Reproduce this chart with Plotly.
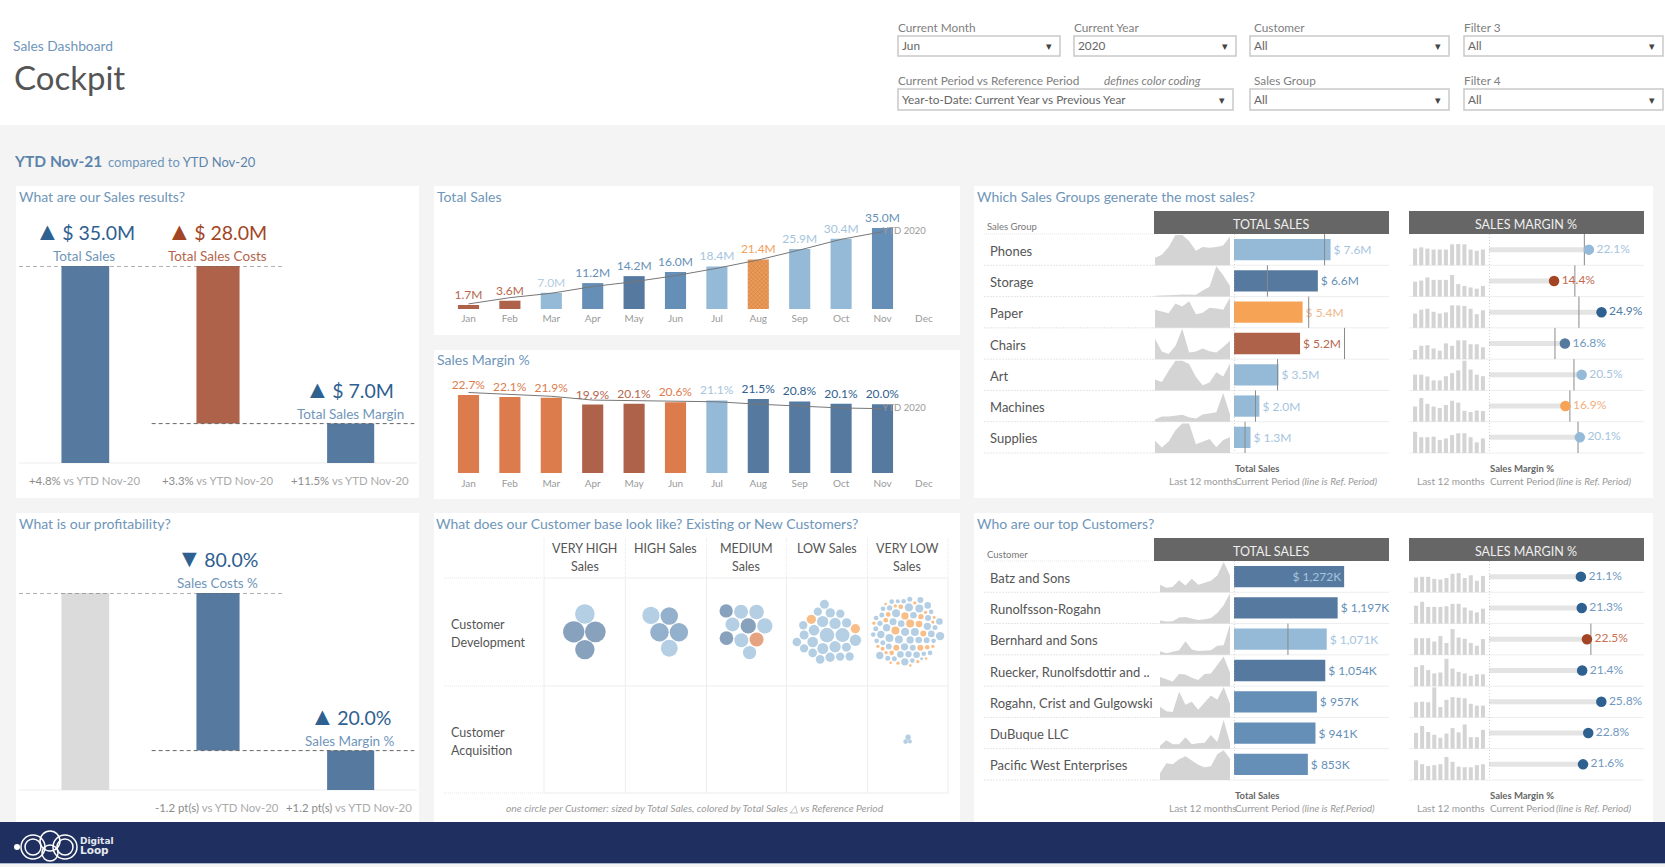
import math
import plotly.graph_objects as go

W, H = 1665, 867
FONT = "Lato"

# colours
LIGHT = "#94BAD8"
MID = "#658FB7"
DARK = "#56799F"
DEEP = "#2E6090"
RUST = "#AE6249"
DEEP_RUST = "#A34525"
BURNT = "#DC7C4C"
ORANGE = "#F7A355"
TXT_BLUE = "#6F96B9"
TXT_LIGHT = "#A5C4DE"
TXT_RUST = "#B5654C"
TXT_ORANGE = "#EDB78B"
GREY = "#9A9A9A"
DARK_TXT = "#555555"

# data
months = ["Jan", "Feb", "Mar", "Apr", "May", "Jun", "Jul", "Aug", "Sep", "Oct", "Nov", "Dec"]
total_sales = [1.7, 3.6, 7.0, 11.2, 14.2, 16.0, 18.4, 21.4, 25.9, 30.4, 35.0]
total_sales_ref = [2.2, 4.9, 6.8, 9.7, 11.8, 14.4, 17.6, 21.2, 25.5, 30.1, 33.4]
total_sales_colors = [RUST, RUST, LIGHT, MID, DARK, MID, LIGHT, "#F09A55", LIGHT, LIGHT, MID]
total_sales_text_colors = [TXT_RUST, TXT_RUST, "#B5CDE2", MID, MID, MID, TXT_LIGHT, "#F0A060", TXT_LIGHT, TXT_LIGHT, MID]
margin_pct = [22.7, 22.1, 21.9, 19.9, 20.1, 20.6, 21.1, 21.5, 20.8, 20.1, 20.0]
margin_ref = [23.4, 22.8, 22.3, 21.2, 21.1, 21.0, 20.7, 20.0, 19.4, 18.9, 18.7]
margin_colors = [BURNT, BURNT, BURNT, RUST, RUST, BURNT, LIGHT, DARK, DARK, DARK, DARK]
margin_text_colors = [BURNT, BURNT, BURNT, TXT_RUST, TXT_RUST, BURNT, TXT_LIGHT, DEEP, DEEP, DEEP, DEEP]

kpi_sales_values = [35.0, 28.0, 7.0]
kpi_sales_base = [0, 7.0, 0]
kpi_profit_values = [100.0, 80.0, 20.0]
kpi_profit_base = [0, 20.0, 0]

groups = ["Phones", "Storage", "Paper", "Chairs", "Art", "Machines", "Supplies"]
group_sales = [7.6, 6.6, 5.4, 5.2, 3.5, 2.0, 1.3]
group_sales_ref = [7.13, 2.63, 5.88, 8.7, 3.43, 1.69, 0.87]
group_labels = ["$ 7.6M", "$ 6.6M", "$ 5.4M", "$ 5.2M", "$ 3.5M", "$ 2.0M", "$ 1.3M"]
group_colors = [LIGHT, DARK, ORANGE, RUST, LIGHT, LIGHT, LIGHT]
group_text_colors = [TXT_LIGHT, MID, TXT_ORANGE, TXT_RUST, TXT_LIGHT, TXT_LIGHT, TXT_LIGHT]
group_margin = [22.1, 14.4, 24.9, 16.8, 20.5, 16.9, 20.1]
group_margin_ref = [21.1, 19.0, 19.9, 14.6, 18.8, 17.9, 19.7]
group_dot_colors = [LIGHT, DEEP_RUST, DEEP, DARK, LIGHT, ORANGE, LIGHT]
group_margin_text = [TXT_LIGHT, "#C26B4F", "#4F7CA6", "#6F98BF", TXT_LIGHT, "#F0B07E", TXT_LIGHT]
group_spark = [
    [25, 35, 60, 100, 100, 80, 48, 60, 58, 60, 65, 95],
    [3, 3, 4, 5, 7, 6, 6, 20, 32, 100, 70, 35],
    [60, 54, 48, 80, 70, 88, 45, 50, 66, 64, 60, 100],
    [67, 25, 17, 43, 100, 22, 25, 35, 26, 22, 40, 60],
    [36, 28, 65, 98, 98, 87, 44, 17, 26, 60, 46, 89],
    [7, 17, 17, 20, 23, 15, 11, 24, 28, 31, 95, 24],
    [40, 18, 38, 75, 97, 97, 29, 38, 46, 19, 43, 52],
]
group_mini = [
    [55, 59, 55, 52, 52, 52, 69, 70, 69, 52, 48, 52],
    [49, 53, 63, 55, 55, 55, 71, 41, 35, 30, 26, 35],
    [47, 60, 63, 53, 47, 51, 74, 74, 72, 63, 45, 58],
    [30, 44, 46, 35, 28, 52, 44, 62, 62, 49, 49, 39],
    [52, 52, 46, 33, 33, 47, 57, 66, 98, 69, 52, 47],
    [50, 78, 59, 50, 45, 55, 69, 63, 36, 32, 37, 35],
    [70, 52, 52, 54, 43, 48, 59, 65, 65, 52, 35, 48],
]

customers = ["Batz and Sons", "Runolfsson-Rogahn", "Bernhard and Sons", "Ruecker, Runolfsdottir and ..",
             "Rogahn, Crist and Gulgowski", "DuBuque LLC", "Pacific West Enterprises"]
cust_sales = [1272, 1197, 1071, 1054, 957, 941, 853]
cust_sales_ref = [None, None, 623, None, None, None, None]
cust_labels = ["$ 1,272K", "$ 1,197K", "$ 1,071K", "$ 1,054K", "$ 957K", "$ 941K", "$ 853K"]
cust_colors = [DARK, DARK, LIGHT, DARK, MID, MID, MID]
cust_text_colors = [TXT_LIGHT, MID, TXT_LIGHT, MID, MID, MID, MID]
cust_margin = [21.1, 21.3, 22.5, 21.4, 25.8, 22.8, 21.6]
cust_margin_ref = [None, None, 23.4, None, None, None, None]
cust_dot_colors = [DEEP, DEEP, DEEP_RUST, DEEP, DEEP, DEEP, DEEP]
cust_margin_text = ["#6F98BF", "#6F98BF", "#CC6E50", "#6F98BF", "#6F98BF", "#6F98BF", "#6F98BF"]
cust_spark = [
    [25, 15, 18, 40, 22, 45, 25, 32, 38, 55, 100, 55],
    [10, 7, 8, 20, 22, 18, 12, 14, 18, 35, 60, 100],
    [12, 5, 10, 15, 45, 18, 13, 13, 15, 30, 32, 100],
    [30, 22, 15, 40, 38, 28, 20, 40, 42, 70, 98, 45],
    [35, 20, 18, 85, 42, 52, 25, 50, 72, 58, 100, 45],
    [10, 28, 15, 15, 38, 15, 18, 20, 45, 22, 95, 20],
    [22, 55, 52, 68, 78, 65, 50, 42, 45, 85, 98, 70],
]
cust_mini = [
    [49, 51, 51, 44, 42, 47, 61, 63, 47, 56, 38, 54],
    [59, 72, 55, 55, 55, 57, 65, 65, 53, 43, 37, 49],
    [55, 55, 55, 44, 62, 39, 85, 57, 53, 39, 30, 52],
    [63, 69, 53, 42, 45, 90, 58, 47, 42, 34, 39, 39],
    [50, 52, 50, 99, 34, 58, 67, 65, 63, 45, 39, 39],
    [52, 75, 55, 46, 36, 50, 68, 54, 80, 38, 38, 62],
    [65, 52, 46, 49, 52, 76, 60, 44, 42, 42, 49, 52],
]

# one circle per customer: sales (K) and status, one list per sales band
band_names = [["VERY HIGH", "Sales"], ["HIGH Sales"], ["MEDIUM", "Sales"], ["LOW Sales"], ["VERY LOW", "Sales"]]
very_high_sales = [1272, 1197, 1071, 1054]
very_high_colors = [DARK, DARK, LIGHT, DARK]
high_sales = [957, 941, 853, 830, 800]
high_colors = [MID, MID, MID, LIGHT, LIGHT]
medium_sales = [658, 658, 602, 549, 549, 549, 549, 523, 498, 498]
medium_colors = [DARK, LIGHT, LIGHT, BURNT, LIGHT, LIGHT, LIGHT, DARK, LIGHT, DARK]
low_sales = [602, 549, 360, 360, 360, 339, 319, 319, 244, 244, 244, 244, 227, 227, 210, 210, 194, 194, 194, 194, 194,
             360, 244, 227, 210, 194]
low_colors = [LIGHT] * 26
low_colors[8] = ORANGE
low_colors[22] = ORANGE
very_low_blue = [194, 179, 150, 124, 179, 150, 137, 124, 179, 101, 150, 124, 179, 101, 150, 112, 124, 101, 194, 150,
                 124, 70, 124, 179, 101, 80, 80, 150, 70, 70, 61, 70, 61, 61, 61, 70, 61, 70, 61, 61, 45, 61, 25, 61,
                 70, 61, 61, 150, 194, 124, 101, 124]
very_low_orange = [179, 179, 150, 124, 101, 101, 101, 80, 61, 61, 61, 61, 61, 45, 31, 31, 31, 31, 31, 31, 31, 31, 31,
                   31, 25, 20, 20, 20, 20]
acquisition_sales = [61, 45, 80]
SIZEREF = 2.8


def pack(values, pad):
    # greedy packing: each circle goes as close to the middle as it can
    rad = [math.sqrt(v / SIZEREF) / 2 + pad for v in values]
    placed = [(0.0, 0.0, rad[0])]
    for r in rad[1:]:
        cands = []
        if len(placed) == 1:
            cands.append((placed[0][2] + r, 0.0))
        for i, a in enumerate(placed):
            for b in placed[i + 1:]:
                da, db = a[2] + r, b[2] + r
                d = math.hypot(b[0] - a[0], b[1] - a[1])
                if d == 0 or d > da + db:
                    continue
                k = (da * da - db * db + d * d) / (2 * d)
                h = math.sqrt(max(0, da * da - k * k))
                mx = a[0] + k * (b[0] - a[0]) / d
                my = a[1] + k * (b[1] - a[1]) / d
                cands.append((mx + h * (b[1] - a[1]) / d, my - h * (b[0] - a[0]) / d))
                cands.append((mx - h * (b[1] - a[1]) / d, my + h * (b[0] - a[0]) / d))
        best = None
        for c in cands:
            if all(math.hypot(c[0] - p[0], c[1] - p[1]) >= r + p[2] - 1e-6 for p in placed):
                dist = math.hypot(*c)
                if best is None or dist < best[0]:
                    best = (dist, c)
        placed.append((best[1][0], best[1][1], r))
    cx = (min(p[0] - p[2] for p in placed) + max(p[0] + p[2] for p in placed)) / 2
    cy = (min(p[1] - p[2] for p in placed) + max(p[1] + p[2] for p in placed)) / 2
    return [p[0] - cx for p in placed], [p[1] - cy for p in placed]


def dx(a, b):
    return [a / W, b / W]


def dy(top, bottom):
    return [1 - bottom / H, 1 - top / H]


annotations = []
shapes = []


def txt(x, y, text, size=12, color=DARK_TXT, anchor="left", family=FONT, **kw):
    annotations.append(dict(x=x / W, y=1 - y / H, xref="paper", yref="paper", text=text, showarrow=False,
                            xanchor=anchor, yanchor="middle", align=anchor,
                            font=dict(family=family, size=size, color=color), borderpad=0, **kw))


def kpi(x, y, mark, value, color):
    txt(x, y, f"<span style='font-size:25px'>{mark}</span>\u2009{value}", 19.5, color, "center")


def rect(x0, y0, x1, y1, fill="white", line=None, lw=1):
    shapes.append(dict(type="rect", xref="paper", yref="paper", x0=x0 / W, x1=x1 / W, y0=1 - y0 / H, y1=1 - y1 / H,
                       fillcolor=fill, line=dict(color=line or fill, width=lw if line else 0), layer="below"))


def hline(x0, x1, y, color="#EDEDED", dash="solid", width=1):
    shapes.append(dict(type="line", xref="paper", yref="paper", x0=x0 / W, x1=x1 / W, y0=1 - y / H, y1=1 - y / H,
                       line=dict(color=color, width=width, dash=dash), layer="below"))


def vline(x, y0, y1, color="#EDEDED", dash="solid"):
    shapes.append(dict(type="line", xref="paper", yref="paper", x0=x / W, x1=x / W, y0=1 - y0 / H, y1=1 - y1 / H,
                       line=dict(color=color, width=1, dash=dash), layer="below"))


fig = go.Figure()

# white header and panels
rect(0, 0, W, 125)
for x0, y0, x1, y1 in [(16, 186, 419, 498), (16, 513, 419, 822), (434, 186, 960, 335), (434, 350, 960, 499),
                       (434, 513, 960, 822), (974, 186, 1653, 498), (974, 513, 1653, 822)]:
    rect(x0, y0, x1, y1)

# title block
txt(12, 46, "Sales Dashboard", 13.8, TXT_BLUE)
txt(13, 77, "Cockpit", 33, "#555555")
txt(13, 161, "<b>YTD Nov-21</b>", 15.5, "#5C84AB")
txt(107, 162, "compared to <span style='color:#5C84AB'>YTD Nov-20</span>", 13, TXT_BLUE)

# filters
filters = [
    (898, 1060, 36, 56, "Current Month", 27, "Jun"), (1074, 1236, 36, 56, "Current Year", 27, "2020"),
    (1250, 1449, 36, 56, "Customer", 28, "All"), (1464, 1663, 36, 56, "Filter 3", 28, "All"),
    (898, 1233, 89, 110, "Current Period vs Reference Period", 81, "Year-to-Date: Current Year vs Previous Year"),
    (1250, 1449, 89, 110, "Sales Group", 81, "All"), (1464, 1663, 89, 110, "Filter 4", 81, "All"),
]
for x0, x1, y0, y1, label, ly, value in filters:
    rect(x0, y0, x1, y1, "white", "#C9C9C9", 1.5)
    txt(x0 - 1.5 if x0 != 1250 else x0 + 2.5, ly, label, 11.8, "#808080")
    txt(x0 + 3, (y0 + y1) / 2, value, 11.8, "#666666")
    txt(x1 - 11, (y0 + y1) / 2, "▾", 11, "#444444", "center")
txt(1103, 81, "<i>defines color coding</i>", 11.8, "#808080")

# panel titles
for x, y, label in [(17.5, 196, "What are our Sales results?"), (435.5, 196, "Total Sales"),
                    (435.5, 360, "Sales Margin %"), (975.5, 196, "Which Sales Groups generate the most sales?"),
                    (17.5, 523, "What is our profitability?"),
                    (434.5, 523, "What does our Customer base look like? Existing or New Customers?"),
                    (975.5, 523, "Who are our top Customers?")]:
    txt(x, y, label, 14, TXT_BLUE)

# KPI columns, sales
fig.add_trace(go.Bar(x=[0, 1, 2], y=kpi_sales_values, base=kpi_sales_base, width=[0.36, 0.325, 0.355],
                     marker=dict(color=[DARK, RUST, DARK], line_width=0), xaxis="x", yaxis="y"))
fig.add_trace(go.Scatter(x=[-0.5, 1.5], y=[kpi_sales_values[0]] * 2, mode="lines",
                         line=dict(color="#666666", width=1, dash="4px,3px"), xaxis="x", yaxis="y"))
fig.add_trace(go.Scatter(x=[0.5, 2.48], y=[kpi_sales_values[2]] * 2, mode="lines",
                         line=dict(color="#666666", width=1, dash="4px,3px"), xaxis="x", yaxis="y"))
hline(19, 417, 463)
kpi(84.5, 230, "▲", "$ 35.0M", DEEP)
txt(84, 256, "Total Sales", 13.5, TXT_BLUE, "center")
kpi(217, 230, "▲", "$ 28.0M", DEEP_RUST)
txt(217, 256, "Total Sales Costs", 13.5, TXT_RUST, "center")
kpi(349, 388, "▲", "$ 7.0M", DEEP)
txt(350, 414, "Total Sales Margin", 13.5, TXT_BLUE, "center")
for x, delta in [(84, "+4.8%"), (217, "+3.3%"), (350, "+11.5%")]:
    txt(x, 480, f"<span style='color:#8c8c8c'>{delta}</span> vs YTD Nov-20", 11.4, "#aaaaaa", "center")

# KPI columns, profitability
fig.add_trace(go.Bar(x=[0, 1, 2], y=kpi_profit_values, base=kpi_profit_base, width=[0.36, 0.325, 0.355],
                     marker=dict(color=["#DCDBDB", DARK, DARK], line_width=0), xaxis="x2", yaxis="y2"))
fig.add_trace(go.Scatter(x=[-0.5, 1.5], y=[kpi_profit_values[0]] * 2, mode="lines",
                         line=dict(color="#666666", width=1, dash="4px,3px"), xaxis="x2", yaxis="y2"))
fig.add_trace(go.Scatter(x=[0.5, 2.48], y=[kpi_profit_values[2]] * 2, mode="lines",
                         line=dict(color="#666666", width=1, dash="4px,3px"), xaxis="x2", yaxis="y2"))
hline(19, 417, 790)
kpi(217, 557, "▼", "80.0%", DEEP)
txt(217, 583, "Sales Costs %", 13.5, TXT_BLUE, "center")
kpi(350, 715, "▲", "20.0%", DEEP)
txt(350, 741, "Sales Margin %", 13.5, TXT_BLUE, "center")
txt(217, 807, "<span style='color:#8c8c8c'>-1.2 pt(s)</span> vs YTD Nov-20", 11.4, "#aaaaaa", "center")
txt(349, 807, "<span style='color:#8c8c8c'>+1.2 pt(s)</span> vs YTD Nov-20", 11.4, "#aaaaaa", "center")

# monthly charts
sales_x = list(range(len(total_sales)))
fig.add_trace(go.Bar(x=sales_x, y=total_sales, width=0.51, text=[f"{v:.1f}M" for v in total_sales],
                     textposition="outside", cliponaxis=False, constraintext="none",
                     textfont=dict(family=FONT, size=12, color=total_sales_text_colors),
                     marker=dict(color=total_sales_colors, line_width=0,
                                 pattern=dict(shape=[""] * 7 + ["x"] + [""] * 3, size=3, solidity=0.2,
                                              fgcolor="#DD7E3E")),
                     xaxis="x3", yaxis="y3"))
fig.add_trace(go.Scatter(x=sales_x, y=total_sales_ref, mode="lines+text", line=dict(color="#777777", width=1),
                         text=[""] * 10 + ["YTD 2020"], textposition="middle right", cliponaxis=False,
                         textfont=dict(family=FONT, size=9.5, color=GREY), xaxis="x3", yaxis="y3"))
fig.add_trace(go.Bar(x=sales_x, y=margin_pct, width=0.51, text=[f"{v:.1f}%" for v in margin_pct],
                     textposition="outside", cliponaxis=False, constraintext="none",
                     textfont=dict(family=FONT, size=12, color=margin_text_colors),
                     marker=dict(color=margin_colors, line_width=0), xaxis="x4", yaxis="y4"))
fig.add_trace(go.Scatter(x=sales_x, y=margin_ref, mode="lines+text", line=dict(color="#777777", width=1),
                         text=[""] * 10 + ["YTD 2020"], textposition="middle right", cliponaxis=False,
                         textfont=dict(family=FONT, size=9.5, color=GREY), xaxis="x4", yaxis="y4"))


def row_panel(names, sales, sales_ref, labels, colors, text_colors, margin, margin_ref_vals, dots, margin_text,
              spark, mini, axes, positions):
    xs, xt, xm, xd, ya = axes
    n = len(names)
    for i in range(n):
        ys = [i + 0.5 - v / 100 * 0.97 for v in spark[i]]
        fig.add_trace(go.Scatter(x=list(range(12)) + [11, 0], y=ys + [i + 0.5, i + 0.5], mode="lines", fill="toself",
                                 fillcolor="#D4D4D4", line=dict(width=0), xaxis=xs, yaxis=ya))
        fig.add_trace(go.Bar(x=list(range(12)), y=[-v / 100 * 0.97 for v in mini[i]], base=i + 0.5, width=0.66,
                             marker=dict(color="#D4D4D4", line_width=0), xaxis=xm, yaxis=ya))
    rows = list(range(n))
    fig.add_trace(go.Bar(y=rows, x=sales, orientation="h", width=0.68, text=labels, cliponaxis=False,
                         constraintext="none", insidetextanchor="end",
                         textposition=["inside" if i == 0 and sales[0] > 1000 else "outside" for i in rows],
                         textfont=dict(family=FONT, size=12, color=text_colors),
                         marker=dict(color=colors, line_width=0), xaxis=xt, yaxis=ya))
    fig.add_trace(go.Bar(y=rows, x=margin, orientation="h", width=0.16, marker=dict(color="#E4E4E4", line_width=0),
                         xaxis=xd, yaxis=ya))
    for ref, axis in [(sales_ref, xt), (margin_ref_vals, xd)]:
        tx, ty = [], []
        for i, v in enumerate(ref):
            if v is not None:
                tx += [v, v, None]
                ty += [i - 0.5, i + 0.5, None]
        fig.add_trace(go.Scatter(x=tx, y=ty, mode="lines", line=dict(color="#8A8A8A", width=1), xaxis=axis, yaxis=ya))
    fig.add_trace(go.Scatter(x=margin, y=rows, mode="markers+text", text=[f"{v:.1f}%" for v in margin],
                             textposition="middle right", cliponaxis=False,
                             textfont=dict(family=FONT, size=12, color=margin_text),
                             marker=dict(size=10.5, color=dots), xaxis=xd, yaxis=ya))
    for axis in (xt, xd):
        fig.add_trace(go.Scatter(x=[0, 0], y=[-0.5, n - 0.5], mode="lines",
                                 line=dict(color="#AAAAAA", width=1, dash="1px,2px"), xaxis=axis, yaxis=ya))
    for i, name in enumerate(names):
        annotations.append(dict(x=989 / W, y=i, xref="paper", yref=ya, text=name, showarrow=False, xanchor="left",
                                yanchor="middle", yshift=-1, font=dict(family=FONT, size=13, color=DARK_TXT),
                                borderpad=0))
    top, bottom = positions
    step = (bottom - top) / n
    for i in range(n + 1):
        yy = top + i * step
        hline(984, 1154, yy, "#E6E6E6", "1px,1px" if i == 0 else "2px,1px")
        if i > 0:
            hline(1154, 1389, yy)
            hline(1409, 1644, yy)
    hy = top - 23
    rect(1154, hy, 1389, top, "#666666")
    rect(1409, hy, 1644, top, "#666666")
    txt(1271, hy + 13, "TOTAL SALES", 12.5, "#EFEFEF", "center")
    txt(1526, hy + 13, "SALES MARGIN %", 12.5, "#EFEFEF", "center")


row_panel(groups, group_sales, group_sales_ref, group_labels, group_colors, group_text_colors, group_margin,
          group_margin_ref, group_dot_colors, group_margin_text, group_spark, group_mini,
          ("x6", "x7", "x8", "x9", "y6"), (234, 453))
row_panel(customers, cust_sales, cust_sales_ref, cust_labels, cust_colors, cust_text_colors, cust_margin,
          cust_margin_ref, cust_dot_colors, cust_margin_text, cust_spark, cust_mini,
          ("x10", "x11", "x12", "x13", "y7"), (561, 780))

txt(986, 227, "Sales Group", 9.5, "#777777")
txt(986, 554, "Customer", 9.5, "#777777")
for y0, ref_note in [(468, "(line is Ref. Period)"), (795, "(line is Ref.Period)")]:
    txt(1234, y0, "<b>Total Sales</b>", 9.5, "#666666")
    txt(1489, y0, "<b>Sales Margin %</b>", 9.5, "#666666")
    txt(1168, y0 + 13, "Last 12 months", 10, GREY)
    txt(1234, y0 + 13, "Current Period", 10, GREY)
    txt(1301, y0 + 13, f"<i>{ref_note}</i>", 10, GREY)
    txt(1416, y0 + 13, "Last 12 months", 10, GREY)
    txt(1489, y0 + 13, "Current Period", 10, GREY)
    txt(1555, y0 + 13, "<i>(line is Ref. Period)</i>", 10, GREY)

# customer circles, column and row spacing follow the grid
very_low_sales, very_low_colors = [], []
blue_left, orange_left = list(very_low_blue), list(very_low_orange)
while blue_left or orange_left:
    for _ in range(2):
        if blue_left:
            very_low_sales.append(blue_left.pop(0))
            very_low_colors.append(LIGHT)
    if orange_left:
        very_low_sales.append(orange_left.pop(0))
        very_low_colors.append(ORANGE)

CELL_W, CELL_H = 80.8, 107.5
bubble_sets = [
    (0, 0, very_high_sales, very_high_colors, 0.3), (1, 0, high_sales, high_colors, 0.5),
    (2, 0, medium_sales, medium_colors, 0.6), (3, 0, low_sales, low_colors, 0.6),
    (4, 0, very_low_sales, very_low_colors, 0.8),
    (4, 1, acquisition_sales, [LIGHT] * len(acquisition_sales), 0),
]
for col, row, values, colors, pad in bubble_sets:
    px_, py_ = pack(values, pad)
    fig.add_trace(go.Scatter(x=[(col + 0.5) * CELL_W + v for v in px_], y=[(row + 0.5) * CELL_H + v for v in py_],
                             mode="markers", cliponaxis=False,
                             marker=dict(size=values, sizemode="area", sizeref=2 * SIZEREF, color=colors,
                                         line_width=0),
                             xaxis="x5", yaxis="y5"))

col_edges = [544, 625.4, 706.5, 786.3, 867.5, 948]
for x in col_edges:
    vline(x, 578, 793)
    vline(x, 538, 578, "#E6E6E6", "1px,1px")
for y in [578, 686, 793]:
    hline(544, 948, y)
    hline(444, 544, y, "#E6E6E6", "1px,1px")
for x, lines in zip([584.5, 665, 746, 826.5, 907], band_names):
    for k, line in enumerate(lines):
        txt(x, 548 + 18 * k, line, 12.5, DARK_TXT, "center")
for y, line in [(624, "Customer"), (642, "Development"), (732, "Customer"), (750, "Acquisition")]:
    txt(450, y, line, 12.5, DARK_TXT)
txt(695, 808, "<i>one circle per Customer: sized by Total Sales, colored by Total Sales △ vs Reference Period</i>", 10.3,
    GREY, "center")

# footer band
rect(0, 822, W, 863, "#1F2F5F")
hline(0, W, 863.5, "#A9B8CC")
for cx, cy, r in [(33, 847, 12), (33, 847, 8), (50, 841, 10), (50, 853, 8), (65, 847, 12), (65, 847, 8)]:
    shapes.append(dict(type="circle", xref="paper", yref="paper", x0=(cx - r) / W, x1=(cx + r) / W,
                       y0=1 - (cy + r) / H, y1=1 - (cy - r) / H, line=dict(color="white", width=1.5)))
shapes.append(dict(type="circle", xref="paper", yref="paper", x0=14 / W, x1=20 / W, y0=1 - 850 / H, y1=1 - 844 / H,
                   fillcolor="white", line=dict(width=0)))
txt(79, 841, "<b>Digital</b>", 9, "#E4E8F0", family="DejaVu Sans")
txt(79, 850, "<b>Loop</b>", 10.5, "#E4E8F0", family="DejaVu Sans")

hidden = dict(visible=False)
fig.update_layout(
    width=W, height=H, margin=dict(l=0, r=0, t=0, b=0), autosize=False,
    paper_bgcolor="#F4F4F4", plot_bgcolor="rgba(0,0,0,0)", showlegend=False, barmode="overlay", hovermode=False,
    annotations=annotations, shapes=shapes, font=dict(family=FONT),
    xaxis=dict(domain=dx(19, 417), range=[-0.5, 2.5], anchor="y", **hidden),
    yaxis=dict(domain=dy(266, 463), range=[0, 35], anchor="x", **hidden),
    xaxis2=dict(domain=dx(19, 417), range=[-0.5, 2.5], anchor="y2", **hidden),
    yaxis2=dict(domain=dy(593, 790), range=[0, 100], anchor="x2", **hidden),
    xaxis3=dict(domain=dx(447.8, 944.6), range=[-0.5, 11.5], anchor="y3", tickvals=list(range(12)), ticktext=months,
                tickfont=dict(family=FONT, size=10, color=GREY), ticks="", showgrid=False, zeroline=False,
                showline=False, ticklabelstandoff=2),
    yaxis3=dict(domain=dy(228, 309), range=[0, 35], anchor="x3", **hidden),
    xaxis4=dict(domain=dx(447.8, 944.6), range=[-0.5, 11.5], anchor="y4", tickvals=list(range(12)), ticktext=months,
                tickfont=dict(family=FONT, size=10, color=GREY), ticks="", showgrid=False, zeroline=False,
                showline=False, ticklabelstandoff=3),
    yaxis4=dict(domain=dy(387, 473), range=[0, 25], anchor="x4", **hidden),
    xaxis5=dict(domain=dx(544, 948), range=[0, 5 * CELL_W], anchor="y5", **hidden),
    yaxis5=dict(domain=dy(578, 793), range=[2 * CELL_H, 0], anchor="x5", **hidden),
    xaxis6=dict(domain=dx(1155, 1230), range=[0, 11], anchor="y6", **hidden),
    xaxis7=dict(domain=dx(1234, 1389), range=[0, 12.2], anchor="y6", **hidden),
    xaxis8=dict(domain=dx(1412, 1486), range=[-0.5, 11.5], anchor="y6", **hidden),
    xaxis9=dict(domain=dx(1489, 1644), range=[0, 34.3], anchor="y6", **hidden),
    yaxis6=dict(domain=dy(234, 453), range=[6.5, -0.5], anchor="x6", **hidden),
    xaxis10=dict(domain=dx(1160, 1230), range=[0, 11], anchor="y7", **hidden),
    xaxis11=dict(domain=dx(1234, 1389), range=[0, 1790], anchor="y7", **hidden),
    xaxis12=dict(domain=dx(1413, 1486), range=[-0.5, 11.5], anchor="y7", **hidden),
    xaxis13=dict(domain=dx(1489, 1644), range=[0, 35.6], anchor="y7", **hidden),
    yaxis7=dict(domain=dy(561, 780), range=[6.5, -0.5], anchor="x10", **hidden),
)

fig.write_html("out.html", config={"displayModeBar": False},
               post_script="document.body.style.margin='0';document.documentElement.style.overflow='hidden';")
